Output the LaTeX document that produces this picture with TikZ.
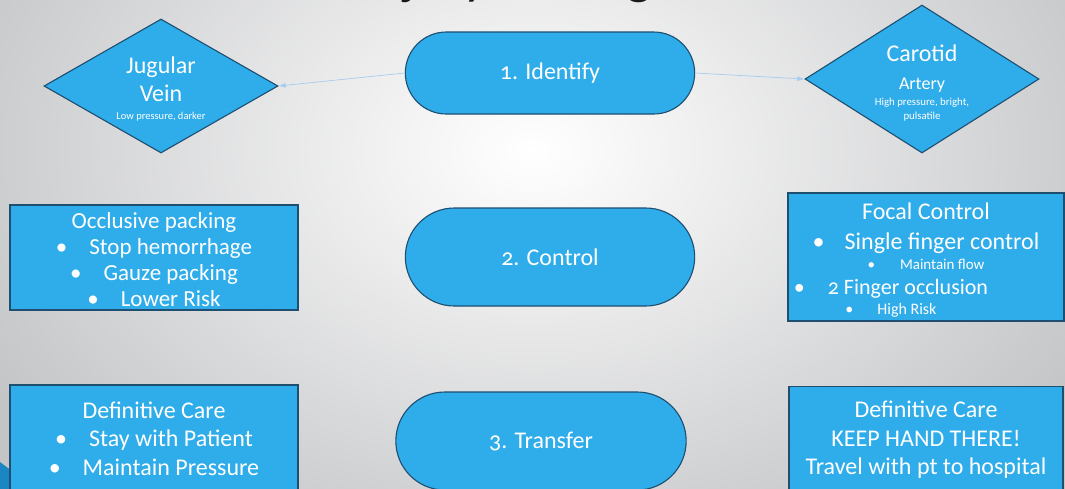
\documentclass[tikz,border=0pt]{standalone}
\usepackage{fontspec}
\setmainfont{Carlito}[Numbers=OldStyle]
\usetikzlibrary{shapes.geometric,shapes.misc,arrows.meta}

\definecolor{boxblue}{HTML}{2FACEA}
\definecolor{boxline}{HTML}{1E4E70}
\definecolor{linkblue}{HTML}{A6CDF0}
\definecolor{bggray}{HTML}{C4C5C7}
\definecolor{cornerblue}{HTML}{1A86C4}

\newcommand{\fs}[1]{\fontsize{#1}{#1}\selectfont}
\newcommand{\bul}[1][22pt]{\textbullet\hspace{#1}}

\tikzset{
	stage/.style={rounded rectangle, draw=boxline, fill=boxblue, line width=1.1pt, minimum width=296pt, minimum height=82pt, text=white, font=\fs{24}},
	vessel/.style={diamond, draw=boxline, fill=boxblue, line width=1.1pt, inner sep=0pt, text=white, align=center, font=\fontsize{24}{24}\selectfont},
	panel/.style={rectangle, draw=boxline, fill=boxblue, line width=1.1pt, inner sep=0pt, text=white, align=center},
	link/.style={draw=linkblue, line width=0.7pt, -{Latex[length=7pt,width=5pt]}},
}

\begin{document}
\begin{tikzpicture}[x=1pt, y=-1pt]
		% Backdrop and heading:
		\useasboundingbox (0,0) rectangle (1065,488);
		\begin{scope}
			\clip (0,0) rectangle (1065,488);
			\shade[inner color=white, outer color=bggray] (-100,-300) rectangle (1165,600);
			\node[anchor=base west, font=\fs{54}, text=black!90, inner sep=0pt] (heading) at (361,-7) {Injury Management};
			\fill[cornerblue] (0,462) -- (12,471) -- (12,492) -- (0,492) -- cycle;
		\end{scope}

		% Steps down the middle:
		\node[stage] (identify) at (550,73) {1. Identify};
		\node[stage, minimum height=98pt] (control) at (550,257) {2. Control};
		\node[stage, minimum width=297pt, minimum height=98pt] (transfer) at (541,441) {3. Transfer};

		% Vessels:
		\node[vessel, minimum width=234pt, minimum height=134pt, aspect=1.75] (jugular) at (161,86) {\rule{0pt}{22pt}Jugular\\[4pt]Vein\\[-6pt]{\fs{10.5}Low pressure, darker}};
		\node[vessel, minimum width=234pt, minimum height=148pt, aspect=1.58] (carotid) at (922,79) {\rule{0pt}{24pt}Carotid\\[4pt]{\fs{18}Artery}\\[-8pt]{\fs{10.8}High pressure, bright,}\\[-10pt]{\fs{10.8}pulsatile}};

		% Control and care panels:
		\node[panel, minimum width=288pt, minimum height=105pt, font=\fontsize{23}{26}\selectfont] (packing) at (154,257.5) {\rule{0pt}{20pt}Occlusive packing\\\bul Stop hemorrhage\\\bul Gauze packing\\\bul Lower Risk};
		\node[panel, minimum width=276pt, minimum height=128pt, font=\fontsize{24}{24}\selectfont] (focal) at (926,257) {\rule{0pt}{22pt}Focal Control\\[6pt]
			\bul[20pt]Single finger control\\[-4pt]
			{\fs{15}\bul[25pt]Maintain flow}\\[1pt]
			{\fs{22}\bul[23pt]2 Finger occlusion}\hspace*{70pt}\mbox{}\\[-4pt]
			{\fs{16}\bul[24pt]High Risk}\hspace*{70pt}\mbox{}};
		\node[panel, minimum width=288pt, minimum height=107pt, font=\fontsize{24}{28.5}\selectfont] (careleft) at (154,438.5) {Definitive Care\\\bul Stay with Patient\\\bul Maintain Pressure};
		\node[panel, minimum width=274pt, minimum height=107pt, font=\fontsize{24}{28.5}\selectfont] (careright) at (926,440) {Definitive Care\\KEEP HAND THERE!\\Travel with pt to hospital};

		% Links out of step one:
		\draw[link] (identify.west) -- (jugular.east);
		\draw[link] (identify.east) -- (carotid.west);
\end{tikzpicture}
\end{document}
